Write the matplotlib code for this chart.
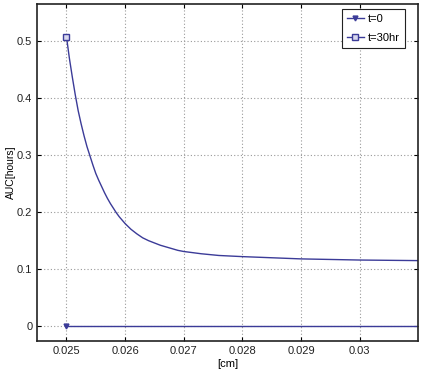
import matplotlib
matplotlib.use('Agg')
import matplotlib.pyplot as plt
from matplotlib.ticker import FuncFormatter

plt.rcParams['font.family'] = ['Liberation Sans', 'DejaVu Sans']
plt.rcParams['font.size'] = 8

# data
thickness = [0.02500, 0.02505, 0.02510, 0.02515, 0.02520, 0.02525, 0.02530,
             0.02535, 0.02540, 0.02545, 0.02550, 0.02555, 0.02560, 0.02565,
             0.02570, 0.02575, 0.02580, 0.02585, 0.02590, 0.02595, 0.02600,
             0.02610, 0.02620, 0.02630, 0.02640, 0.02650, 0.02660, 0.02670,
             0.02680, 0.02690, 0.02700, 0.02715, 0.02730, 0.02745, 0.02760,
             0.02780, 0.02800, 0.02825, 0.02850, 0.02875, 0.02900, 0.02950,
             0.03000, 0.03050, 0.03100]
auc_t0 = [0.0] * len(thickness)
auc_t30 = [0.508, 0.470, 0.437, 0.406, 0.378, 0.355, 0.334, 0.315,
           0.299, 0.283, 0.268, 0.256, 0.245, 0.234, 0.224, 0.215,
           0.207, 0.199, 0.192, 0.186, 0.180, 0.170, 0.162, 0.155,
           0.150, 0.146, 0.142, 0.139, 0.136, 0.133, 0.131, 0.129,
           0.127, 0.1255, 0.124, 0.123, 0.122, 0.121, 0.120, 0.119,
           0.118, 0.117, 0.116, 0.1155, 0.115]
xticks = [0.025, 0.026, 0.027, 0.028, 0.029, 0.030]
yticks = [0, 0.1, 0.2, 0.3, 0.4, 0.5]

line_color = '#3b3b98'

fig = plt.figure(figsize=(4.32, 3.78), dpi=100)
ax = fig.add_axes([0.086, 0.098, 0.882, 0.891])

ax.plot(thickness, auc_t0, color=line_color, lw=1.0, marker='v', ms=3.5,
        markevery=[0], mfc=line_color, label='t=0')
ax.plot(thickness, auc_t30, color=line_color, lw=1.0, marker='s', ms=4,
        markevery=[0], mfc='#d8d8ee', label='t=30hr')

ax.set_xlim(0.0245, 0.0310)
ax.set_ylim(-0.026, 0.565)
ax.set_xticks(xticks)
ax.set_yticks(yticks)
ax.xaxis.set_major_formatter(FuncFormatter(lambda v, p: '%g' % round(v, 4)))
ax.yaxis.set_major_formatter(FuncFormatter(lambda v, p: '%g' % round(v, 2)))

ax.grid(True, linestyle=(0, (1, 2)), color='#999999', linewidth=0.8)
ax.tick_params(direction='in', length=3, top=True, right=True, colors='black',
               labelcolor='#222222', labelsize=8)
for s in ax.spines.values():
    s.set_linewidth(1.2)
    s.set_color('#222222')

ax.set_xlabel('[cm]', fontsize=8, labelpad=2)
ax.set_ylabel('AUC[hours]', fontsize=7.5, labelpad=1)

leg = ax.legend(loc='upper right', fontsize=8, fancybox=False,
                edgecolor='#222222', framealpha=1, handlelength=1.6,
                handletextpad=0.35, labelspacing=0.8, borderpad=0.45,
                borderaxespad=0.0, bbox_to_anchor=(0.966, 0.985))
leg.get_frame().set_linewidth(0.8)

plt.savefig('out.png', dpi=100, facecolor='white')
